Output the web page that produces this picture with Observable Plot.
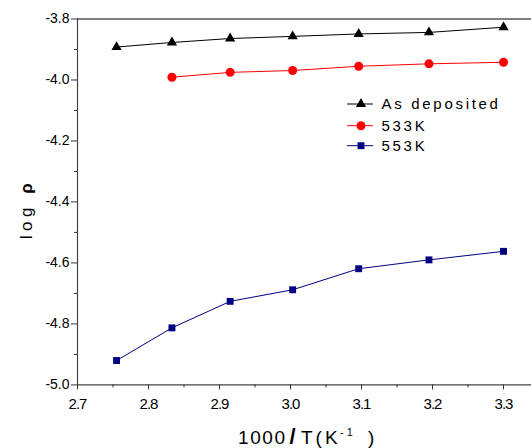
<!DOCTYPE html>
<html><head><meta charset="utf-8">
<script src="https://cdn.jsdelivr.net/npm/d3@7"></script>
<script src="https://cdn.jsdelivr.net/npm/@observablehq/plot@0.6"></script>
<style>body{margin:0;background:#fff;} #chart svg{overflow:visible}</style>
</head><body><div id="chart"></div>
<script>
const seriesNames = ["As deposited", "533K", "553K"];
const seriesColors = ["#000000", "#ff0000", "#000080"];
const seriesSymbols = ["triangle", "circle", "square"];
const invT = [2.755, 2.833, 2.915, 3.003, 3.096, 3.195, 3.300];
const asDeposited = [-3.892, -3.877, -3.864, -3.857, -3.849, -3.844, -3.827];
const invT533 = [2.833, 2.915, 3.003, 3.096, 3.195, 3.300];
const k533 = [-3.991, -3.975, -3.969, -3.955, -3.947, -3.942];
const k553 = [-4.920, -4.813, -4.726, -4.688, -4.619, -4.590, -4.562];
const xTicks = [2.7, 2.8, 2.9, 3.0, 3.1, 3.2, 3.3];
const xMinor = [2.75, 2.85, 2.95, 3.05, 3.15, 3.25];
const yTicks = [-5.0, -4.8, -4.6, -4.4, -4.2, -4.0, -3.8];
const yMinor = [-4.9, -4.7, -4.5, -4.3, -4.1, -3.9];

const data = [
  ...invT.map((x, i) => ({x, y: asDeposited[i], series: seriesNames[0]})),
  ...invT533.map((x, i) => ({x, y: k533[i], series: seriesNames[1]})),
  ...invT.map((x, i) => ({x, y: k553[i], series: seriesNames[2]}))
];
const radii = {"As deposited": 3.8, "533K": 4.5, "553K": 3.9};

const fmt = d => d.toFixed(1);
const plot = Plot.plot({
  width: 531, height: 448,
  marginLeft: 77, marginTop: 18.5, marginBottom: 63.6, marginRight: 0,
  x: {domain: [2.7, 3.3394]},
  y: {domain: [-5.0, -3.8]},
  color: {domain: seriesNames, range: seriesColors},
  symbol: {domain: seriesNames, range: seriesSymbols},
  style: {fontFamily: "'Liberation Sans', Arial, sans-serif", fontSize: "14px", color: "#000", background: "#fff"},
  marks: [
    Plot.ruleY([-3.8], {stroke: "#000", strokeWidth: 1.2}),
    Plot.ruleX([2.7], {stroke: "#444", strokeWidth: 1.2}),
    Plot.ruleY([-5.0], {stroke: "#444", strokeWidth: 1.2}),
    Plot.axisY(yTicks, {tickSize: 6, tickPadding: 2, tickFormat: fmt, label: null, stroke: "#333"}),
    Plot.axisY(yMinor, {tickSize: 3, tickFormat: () => "", label: null, stroke: "#333"}),
    Plot.axisX(xTicks, {tickSize: 5, tickPadding: 8, tickFormat: fmt, label: null, stroke: "#333"}),
    Plot.axisX(xMinor, {tickSize: 3, tickFormat: () => "", label: null, stroke: "#333"}),
    Plot.line(data, {x: "x", y: "y", z: "series", stroke: "series", strokeWidth: 1}),
    ...seriesNames.map(s => Plot.dot(data.filter(d => d.series === s), {x: "x", y: "y", fill: "series", symbol: "series", r: radii[s], stroke: "none"}))
  ]
});
document.getElementById("chart").appendChild(plot);

const svg = d3.select(plot);
svg.selectAll('g[aria-label="x-axis tick label"]').attr("font-size", 15);
svg.selectAll('g[aria-label="x-axis tick label"] text').style("letter-spacing", "-1px").attr("font-size", 15);
svg.selectAll('g[aria-label="y-axis tick label"]').attr("font-size", 14);
svg.selectAll('g[aria-label="y-axis tick label"] text').attr("font-size", 14);

// legend
const rows = [104, 125.7, 145.7];
const sym = {triangle: d3.symbolTriangle, circle: d3.symbolCircle, square: d3.symbolSquare};
const lg = svg.append("g").attr("text-anchor", "start");
seriesNames.forEach((s, i) => {
  lg.append("line").attr("x1", 347).attr("x2", 373).attr("y1", rows[i]).attr("y2", rows[i])
    .attr("stroke", seriesColors[i]).attr("stroke-width", 1);
  lg.append("path").attr("d", d3.symbol(sym[seriesSymbols[i]], Math.PI * radii[s] * radii[s])())
    .attr("transform", `translate(361,${rows[i]})`).attr("fill", seriesColors[i]);
  lg.append("text").attr("x", 381.5).attr("y", rows[i]).attr("dy", "0.36em").attr("text-anchor", "start")
    .attr("font-size", 15).attr("letter-spacing", "2.7px").attr("fill", "#000").text(s);
});

// x label
const xl = svg.append("text").attr("y", 444).attr("font-size", 19).attr("text-anchor", "start")
  .attr("fill", "#000");
xl.append("tspan").attr("x", 238).attr("letter-spacing", "1.6px").text("1000");
xl.append("tspan").attr("x", 289.5).attr("font-weight", "bold").attr("font-size", 22).text("/");
xl.append("tspan").attr("x", 301).attr("letter-spacing", "3px").text("T(K");
xl.append("tspan").attr("x", 340).attr("font-size", 11).attr("letter-spacing", "3px").attr("dy", -8).text("-1");
xl.append("tspan").attr("x", 368).attr("dy", 8).text(")");

// y label
const yl = svg.append("text").attr("transform", "translate(32,209) rotate(-90)")
  .attr("text-anchor", "middle").attr("font-size", 17).attr("letter-spacing", "4.5px").attr("fill", "#000");
yl.append("tspan").text("log ");
yl.append("tspan").attr("font-weight", "bold").text("ρ");
</script>
</body></html>
